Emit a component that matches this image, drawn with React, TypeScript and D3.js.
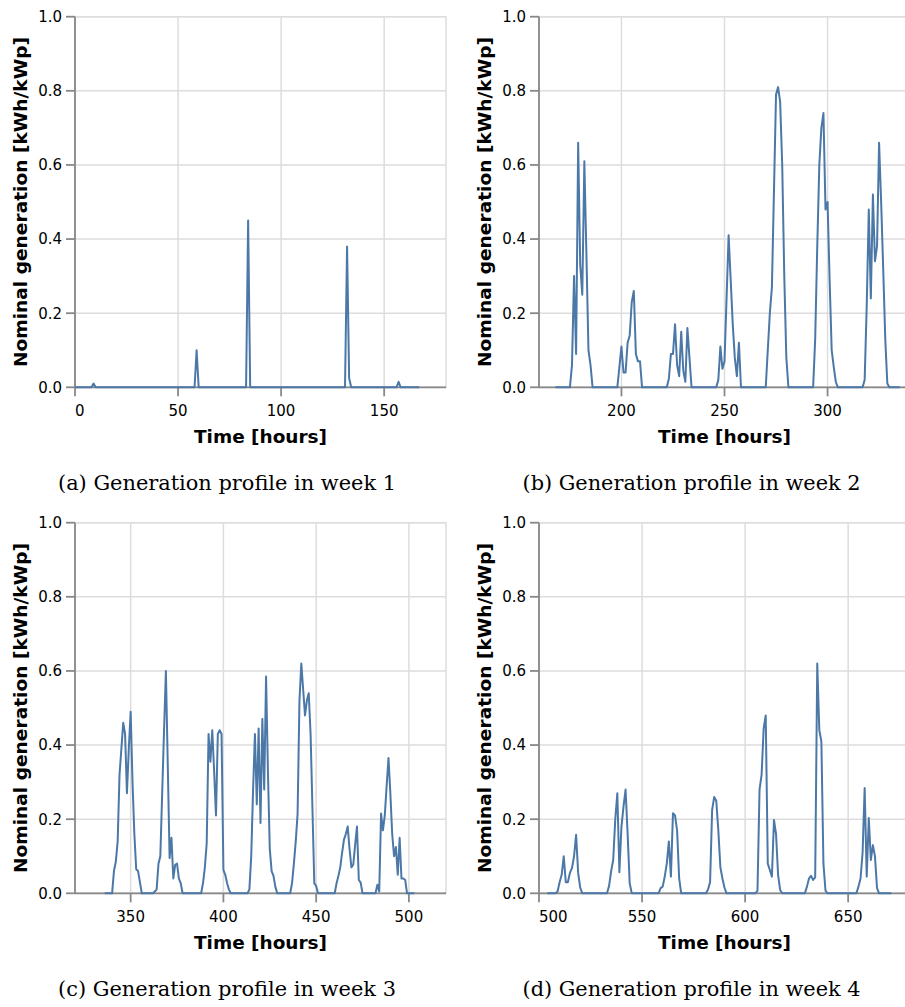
import { useEffect, useRef } from 'react';
import * as d3 from 'd3';

// Hourly nominal generation, one row per day (24 values), four weeks
const week1 = [
  [0, 0, 0, 0, 0, 0, 0, 0, 0, 0.01, 0, 0, 0, 0, 0, 0, 0, 0, 0, 0, 0, 0, 0, 0],
  [0, 0, 0, 0, 0, 0, 0, 0, 0, 0, 0, 0, 0, 0, 0, 0, 0, 0, 0, 0, 0, 0, 0, 0],
  [0, 0, 0, 0, 0, 0, 0, 0, 0, 0, 0, 0.1, 0, 0, 0, 0, 0, 0, 0, 0, 0, 0, 0, 0],
  [0, 0, 0, 0, 0, 0, 0, 0, 0, 0, 0, 0, 0.45, 0, 0, 0, 0, 0, 0, 0, 0, 0, 0, 0],
  [0, 0, 0, 0, 0, 0, 0, 0, 0, 0, 0, 0, 0, 0, 0, 0, 0, 0, 0, 0, 0, 0, 0, 0],
  [0, 0, 0, 0, 0, 0, 0, 0, 0, 0, 0, 0, 0.38, 0.025, 0, 0, 0, 0, 0, 0, 0, 0, 0, 0],
  [0, 0, 0, 0, 0, 0, 0, 0, 0, 0, 0, 0, 0, 0.015, 0, 0, 0, 0, 0, 0, 0, 0, 0, 0],
];

const week2 = [
  [0, 0, 0, 0, 0, 0, 0, 0, 0.06, 0.3, 0.09, 0.66, 0.33, 0.25, 0.61, 0.36, 0.1, 0.06, 0, 0, 0, 0, 0, 0],
  [0, 0, 0, 0, 0, 0, 0, 0.055, 0.11, 0.04, 0.04, 0.12, 0.14, 0.23, 0.26, 0.09, 0.07, 0.07, 0, 0, 0, 0, 0, 0],
  [0, 0, 0, 0, 0, 0, 0, 0.023, 0.09, 0.09, 0.17, 0.06, 0.03, 0.15, 0.045, 0.015, 0.16, 0.08, 0, 0, 0, 0, 0, 0],
  [0, 0, 0, 0, 0, 0, 0, 0.02, 0.11, 0.05, 0.07, 0.24, 0.41, 0.29, 0.17, 0.08, 0.03, 0.12, 0, 0, 0, 0, 0, 0],
  [0, 0, 0, 0, 0, 0, 0, 0.1, 0.2, 0.27, 0.53, 0.79, 0.81, 0.77, 0.6, 0.3, 0.08, 0, 0, 0, 0, 0, 0, 0],
  [0, 0, 0, 0, 0, 0, 0.13, 0.38, 0.6, 0.7, 0.74, 0.48, 0.5, 0.29, 0.1, 0.055, 0.015, 0, 0, 0, 0, 0, 0, 0],
  [0, 0, 0, 0, 0, 0, 0.02, 0.22, 0.48, 0.24, 0.52, 0.34, 0.38, 0.66, 0.5, 0.32, 0.13, 0.01, 0, 0, 0, 0, 0, 0],
];

const week3 = [
  [0, 0, 0, 0, 0, 0.06, 0.085, 0.14, 0.32, 0.39, 0.46, 0.43, 0.27, 0.39, 0.49, 0.3, 0.16, 0.065, 0.06, 0.03, 0, 0, 0, 0],
  [0, 0, 0, 0.005, 0.01, 0.08, 0.1, 0.27, 0.44, 0.6, 0.35, 0.095, 0.15, 0.04, 0.077, 0.08, 0.04, 0.027, 0, 0, 0, 0, 0, 0],
  [0, 0, 0, 0, 0, 0.027, 0.07, 0.135, 0.43, 0.355, 0.44, 0.33, 0.21, 0.43, 0.44, 0.43, 0.063, 0.05, 0.027, 0.01, 0, 0, 0, 0],
  [0, 0, 0, 0, 0, 0, 0.01, 0.1, 0.28, 0.43, 0.24, 0.445, 0.19, 0.47, 0.28, 0.585, 0.33, 0.12, 0.06, 0.047, 0.018, 0, 0, 0],
  [0, 0, 0, 0, 0, 0.027, 0.08, 0.14, 0.215, 0.52, 0.62, 0.55, 0.48, 0.52, 0.54, 0.43, 0.23, 0.027, 0.02, 0, 0, 0, 0, 0],
  [0, 0, 0, 0, 0, 0.027, 0.047, 0.07, 0.11, 0.145, 0.16, 0.18, 0.12, 0.07, 0.077, 0.13, 0.18, 0.036, 0.029, 0, 0, 0, 0, 0],
  [0, 0, 0, 0.023, 0.005, 0.215, 0.17, 0.21, 0.29, 0.365, 0.27, 0.16, 0.1, 0.125, 0.05, 0.15, 0.04, 0.04, 0.036, 0, 0, 0, 0, 0],
];

const week4 = [
  [0, 0, 0, 0, 0, 0.005, 0.03, 0.05, 0.1, 0.03, 0.03, 0.055, 0.068, 0.1, 0.158, 0.055, 0.015, 0, 0, 0, 0, 0, 0, 0],
  [0, 0, 0, 0, 0, 0, 0.02, 0.06, 0.09, 0.2, 0.27, 0.057, 0.18, 0.234, 0.28, 0.16, 0.027, 0, 0, 0, 0, 0, 0, 0],
  [0, 0, 0, 0, 0, 0, 0, 0.014, 0.018, 0.045, 0.08, 0.14, 0.045, 0.216, 0.21, 0.17, 0.04, 0, 0, 0, 0, 0, 0, 0],
  [0, 0, 0, 0, 0, 0, 0.01, 0.03, 0.225, 0.26, 0.25, 0.17, 0.07, 0.04, 0.015, 0, 0, 0, 0, 0, 0, 0, 0, 0],
  [0, 0, 0, 0, 0, 0, 0.007, 0.28, 0.32, 0.445, 0.48, 0.08, 0.063, 0.045, 0.198, 0.16, 0.05, 0.009, 0, 0, 0, 0, 0, 0],
  [0, 0, 0, 0, 0, 0, 0.018, 0.04, 0.047, 0.036, 0.043, 0.62, 0.44, 0.41, 0.08, 0.007, 0, 0, 0, 0, 0, 0, 0, 0],
  [0, 0, 0, 0, 0, 0, 0, 0.018, 0.04, 0.11, 0.284, 0.045, 0.203, 0.09, 0.13, 0.1, 0.014, 0, 0, 0, 0, 0, 0, 0],
];

const weekStarts = [0, 168, 336, 504];
const xDomains = [[0, 180], [160, 340], [320, 520], [500, 680]];
const xTicksA = [0, 50, 100, 150];
const xTicksB = [200, 250, 300];
const xTicksC = [350, 400, 450, 500];
const xTicksD = [500, 550, 600, 650];
const yTicks = [0, 0.2, 0.4, 0.6, 0.8, 1.0];
const captions = [
  '(a) Generation profile in week 1',
  '(b) Generation profile in week 2',
  '(c) Generation profile in week 3',
  '(d) Generation profile in week 4',
];
const xTitle = 'Time [hours]';
const yTitle = 'Nominal generation [kWh/kWp]';

const WIDTH = 905;
const HEIGHT = 1007;
const PLOT_W = 371;
const PLOT_H = 370.6;
const SANS = '"DejaVu Sans", Verdana, sans-serif';
const SERIF = '"DejaVu Serif", serif';

const panels = [
  { days: week1, start: weekStarts[0], xDomain: xDomains[0], xTicks: xTicksA, left: 75, top: 16.7, caption: captions[0], capX: 227 },
  { days: week2, start: weekStarts[1], xDomain: xDomains[1], xTicks: xTicksB, left: 539, top: 16.7, caption: captions[1], capX: 691.5 },
  { days: week3, start: weekStarts[2], xDomain: xDomains[2], xTicks: xTicksC, left: 75, top: 522.7, caption: captions[2], capX: 227 },
  { days: week4, start: weekStarts[3], xDomain: xDomains[3], xTicks: xTicksD, left: 539, top: 522.7, caption: captions[3], capX: 691.5 },
];

export default function App() {
  const svgRef = useRef<SVGSVGElement>(null);

  useEffect(() => {
    if (!svgRef.current) return;
    const svg = d3.select(svgRef.current);
    svg.selectAll('*').remove();

    svg.append('rect')
      .attr('width', WIDTH)
      .attr('height', HEIGHT)
      .attr('fill', '#fff');

    panels.forEach(p => {
      const series = p.days.flat().map((v, i) => ({ hour: p.start + i, value: v }));

      const x = d3.scaleLinear().domain(p.xDomain).range([0, PLOT_W]);
      const y = d3.scaleLinear().domain([0, 1]).range([PLOT_H, 0]);

      const g = svg.append('g')
        .attr('transform', `translate(${p.left},${p.top})`);

      // grid
      g.append('g')
        .selectAll('line')
        .data(p.xTicks)
        .join('line')
        .attr('x1', d => x(d))
        .attr('x2', d => x(d))
        .attr('y1', 0)
        .attr('y2', PLOT_H)
        .attr('stroke', '#ddd')
        .attr('stroke-width', 1.5);

      g.append('g')
        .selectAll('line')
        .data(yTicks)
        .join('line')
        .attr('x1', 0)
        .attr('x2', PLOT_W)
        .attr('y1', d => y(d))
        .attr('y2', d => y(d))
        .attr('stroke', '#ddd')
        .attr('stroke-width', 1.5);

      // view border
      g.append('rect')
        .attr('width', PLOT_W)
        .attr('height', PLOT_H)
        .attr('fill', 'none')
        .attr('stroke', '#ddd')
        .attr('stroke-width', 1.5);

      // x axis
      g.append('line')
        .attr('x1', 0)
        .attr('x2', PLOT_W)
        .attr('y1', PLOT_H)
        .attr('y2', PLOT_H)
        .attr('stroke', '#888')
        .attr('stroke-width', 1.8);

      g.append('g')
        .selectAll('line')
        .data(p.xTicks)
        .join('line')
        .attr('x1', d => x(d))
        .attr('x2', d => x(d))
        .attr('y1', PLOT_H)
        .attr('y2', PLOT_H + 9)
        .attr('stroke', '#888')
        .attr('stroke-width', 1.8);

      g.append('g')
        .selectAll('text')
        .data(p.xTicks)
        .join('text')
        .attr('x', d => x(d))
        .attr('y', PLOT_H + 29)
        .attr('text-anchor', d => d === p.xDomain[0] ? 'start' : d === p.xDomain[1] ? 'end' : 'middle')
        .style('font-family', SANS)
        .style('font-size', '15px')
        .style('fill', '#000')
        .text(d => String(d));

      g.append('text')
        .attr('x', PLOT_W / 2)
        .attr('y', PLOT_H + 55.5)
        .attr('text-anchor', 'middle')
        .attr('textLength', 133)
        .attr('lengthAdjust', 'spacingAndGlyphs')
        .style('font-family', SANS)
        .style('font-size', '18px')
        .style('font-weight', 'bold')
        .style('fill', '#000')
        .text(xTitle);

      // y axis
      g.append('line')
        .attr('x1', 0)
        .attr('x2', 0)
        .attr('y1', 0)
        .attr('y2', PLOT_H)
        .attr('stroke', '#888')
        .attr('stroke-width', 1.8);

      g.append('g')
        .selectAll('line')
        .data(yTicks)
        .join('line')
        .attr('x1', -9)
        .attr('x2', 0)
        .attr('y1', d => y(d))
        .attr('y2', d => y(d))
        .attr('stroke', '#888')
        .attr('stroke-width', 1.8);

      g.append('g')
        .selectAll('text')
        .data(yTicks)
        .join('text')
        .attr('x', -13)
        .attr('y', d => y(d))
        .attr('dy', '0.36em')
        .attr('text-anchor', 'end')
        .style('font-family', SANS)
        .style('font-size', '15px')
        .style('fill', '#000')
        .text(d => d.toFixed(1));

      g.append('text')
        .attr('transform', `translate(${-48},${PLOT_H / 2}) rotate(-90)`)
        .attr('text-anchor', 'middle')
        .attr('textLength', 330)
        .attr('lengthAdjust', 'spacingAndGlyphs')
        .style('font-family', SANS)
        .style('font-size', '18px')
        .style('font-weight', 'bold')
        .style('fill', '#000')
        .text(yTitle);

      // series
      const line = d3.line<{ hour: number; value: number }>()
        .x(d => x(d.hour))
        .y(d => y(d.value));

      g.append('path')
        .datum(series)
        .attr('d', line)
        .attr('fill', 'none')
        .attr('stroke', '#4c78a8')
        .attr('stroke-width', 2)
        .attr('stroke-linejoin', 'round');

      // caption
      svg.append('text')
        .attr('x', p.capX)
        .attr('y', p.top + 473.5)
        .attr('text-anchor', 'middle')
        .attr('textLength', 338)
        .attr('lengthAdjust', 'spacingAndGlyphs')
        .style('font-family', SERIF)
        .style('font-size', '20px')
        .style('fill', '#000')
        .text(p.caption);
    });
  }, []);

  return (
    <svg
      ref={svgRef}
      width={WIDTH}
      height={HEIGHT}
      style={{ position: 'absolute', left: 0, top: 0 }}
    />
  );
}
